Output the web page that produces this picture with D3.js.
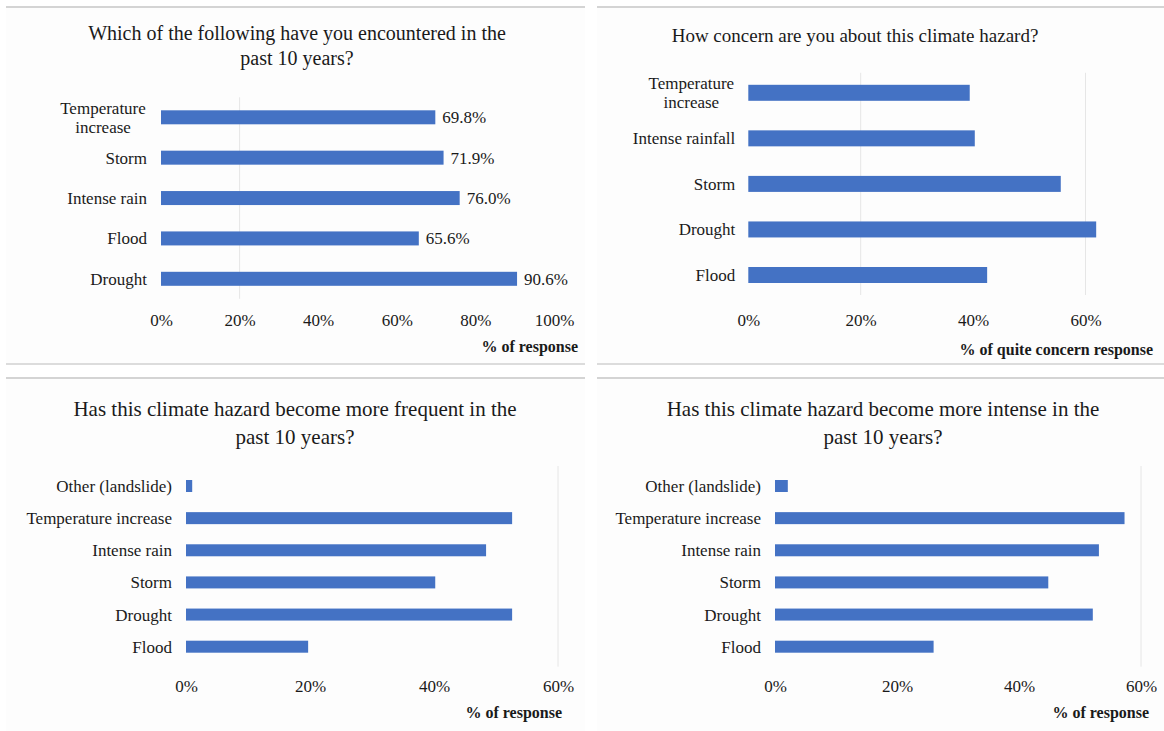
<!DOCTYPE html>
<html>
<head>
<meta charset="utf-8">
<script src="https://cdn.jsdelivr.net/npm/d3@7"></script>
<style>
  body { margin: 0; background: #fff; }
  svg text { font-family: 'Liberation Serif', 'Times New Roman', serif; fill: #1a1a1a; }
</style>
</head>
<body>
<div id="visualization"></div>
<script>
/*************************************/
/* Data                              */
/*************************************/

// Top left: encountered in the past 10 years
const encCategories = ['Temperature increase', 'Storm', 'Intense rain', 'Flood', 'Drought'];
const encValues = [69.8, 71.9, 76.0, 65.6, 90.6];

// Top right: quite concerned
const concernCategories = ['Temperature increase', 'Intense rainfall', 'Storm', 'Drought', 'Flood'];
const concernValues = [39.4, 40.3, 55.6, 61.9, 42.5];

// Bottom left: more frequent
const freqCategories = ['Other (landslide)', 'Temperature increase', 'Intense rain', 'Storm', 'Drought', 'Flood'];
const freqValues = [1.0, 52.6, 48.4, 40.2, 52.6, 19.7];

// Bottom right: more intense
const intenseCategories = ['Other (landslide)', 'Temperature increase', 'Intense rain', 'Storm', 'Drought', 'Flood'];
const intenseValues = [2.1, 57.3, 53.1, 44.8, 52.1, 26.0];

// Tick values
const ticksTo100 = [0, 20, 40, 60, 80, 100];
const ticksTo60 = [0, 20, 40, 60];


/*************************************/
/* Layout                            */
/*************************************/

const width = 1164;
const height = 731;
const barColor = '#4472c4';

const panels = [
  {
    box: [6, 7, 585, 365],
    title: ['Which of the following have you encountered in the', 'past 10 years?'],
    titleX: 297, titleY: [33, 58], titleSize: 20,
    categories: encCategories, values: encValues,
    domain: [0, 100], xRange: [161, 554], yRange: [117.3, 278.8],
    barH: 14, ticks: ticksTo100, tickY: 320,
    wrap: true, labelGap: 14, showValues: true,
    axisTitle: '% of response', axisTitleX: 578, axisTitleY: 346,
    grid: [20]
  },
  {
    box: [597, 7, 1164, 365],
    title: ['How concern are you about this climate hazard?'],
    titleX: 855, titleY: [35], titleSize: 19,
    categories: concernCategories, values: concernValues,
    domain: [0, 60], xRange: [748.3, 1085.5], yRange: [92.8, 275],
    barH: 16, ticks: ticksTo60, tickY: 320,
    wrap: true, labelGap: 13, showValues: false,
    axisTitle: '% of quite concern response', axisTitleX: 1153, axisTitleY: 349,
    grid: [20, 60]
  },
  {
    box: [6, 378, 585, 731],
    title: ['Has this climate hazard become more frequent in the', 'past 10 years?'],
    titleX: 295, titleY: [409, 437], titleSize: 21,
    categories: freqCategories, values: freqValues,
    domain: [0, 60], xRange: [186, 558], yRange: [486, 646.7],
    barH: 12, ticks: ticksTo60, tickY: 686,
    wrap: false, labelGap: 14, showValues: false,
    axisTitle: '% of response', axisTitleX: 562, axisTitleY: 712,
    grid: [60]
  },
  {
    box: [597, 378, 1164, 731],
    title: ['Has this climate hazard become more intense in the', 'past 10 years?'],
    titleX: 883, titleY: [409, 437], titleSize: 21,
    categories: intenseCategories, values: intenseValues,
    domain: [0, 60], xRange: [775, 1141], yRange: [486, 646.7],
    barH: 12, ticks: ticksTo60, tickY: 686,
    wrap: false, labelGap: 14, showValues: false,
    axisTitle: '% of response', axisTitleX: 1149, axisTitleY: 712,
    grid: [60]
  }
];


/*************************************/
/* Draw                              */
/*************************************/

const viz = d3.select('#visualization')
  .append('svg')
  .attr('width', width)
  .attr('height', height);

const drawPanel = p => {
  const g = viz.append('g');
  const [bx0, by0, bx1, by1] = p.box;

  // Panel background and separators
  g.append('rect')
    .attr('x', bx0).attr('y', by0)
    .attr('width', bx1 - bx0).attr('height', by1 - by0)
    .attr('fill', '#fdfdfd');
  g.append('line')
    .attr('x1', bx0).attr('x2', bx1).attr('y1', by0).attr('y2', by0)
    .attr('stroke', '#d4d4d4').attr('stroke-width', 2);
  if (by1 < height) {
    g.append('line')
      .attr('x1', bx0).attr('x2', bx1).attr('y1', by1 - 1).attr('y2', by1 - 1)
      .attr('stroke', '#dcdcdc').attr('stroke-width', 2);
  }

  const x = d3.scaleLinear().domain(p.domain).range(p.xRange);
  const y = d3.scalePoint().domain(p.categories).range(p.yRange);
  const data = p.categories.map((c, i) => ({ cat: c, val: p.values[i] }));

  // Title
  g.append('text')
    .attr('text-anchor', 'middle')
    .attr('font-size', p.titleSize)
    .selectAll('tspan')
    .data(p.title)
    .join('tspan')
      .attr('x', p.titleX)
      .attr('y', (d, i) => p.titleY[i])
      .attr('dy', '0.35em')
      .text(d => d);

  // Gridlines
  g.append('g')
    .selectAll('line')
    .data(p.grid)
    .join('line')
      .attr('x1', d => x(d)).attr('x2', d => x(d))
      .attr('y1', p.yRange[0] - 20).attr('y2', p.yRange[1] + 20)
      .attr('stroke', '#e6e6e6');

  // Bars
  g.append('g')
    .selectAll('rect')
    .data(data)
    .join('rect')
      .attr('x', x(0))
      .attr('y', d => y(d.cat) - p.barH / 2)
      .attr('width', d => x(d.val) - x(0))
      .attr('height', p.barH)
      .attr('fill', barColor);

  // Value labels
  if (p.showValues) {
    g.append('g')
      .selectAll('text')
      .data(data)
      .join('text')
        .attr('x', d => x(d.val) + 7)
        .attr('y', d => y(d.cat))
        .attr('dy', '0.35em')
        .attr('font-size', 17)
        .text(d => d3.format('.1f')(d.val) + '%');
  }

  // Category labels
  const labels = g.append('g')
    .selectAll('text')
    .data(data)
    .join('text')
      .attr('text-anchor', 'end')
      .attr('font-size', 17);
  labels.each(function(d) {
    const t = d3.select(this);
    const lines = (p.wrap && d.cat === 'Temperature increase') ? ['Temperature', 'increase'] : [d.cat];
    t.selectAll('tspan')
      .data(lines)
      .join('tspan')
        .attr('x', x(0) - p.labelGap)
        .attr('y', (l, i) => y(d.cat) + (i - (lines.length - 1) / 2) * 19)
        .attr('dy', '0.35em')
        .attr('text-anchor', lines.length > 1 ? 'middle' : 'end')
        .attr('dx', lines.length > 1 ? -44 : 0)
        .text(l => l);
  });

  // X axis
  const axis = g.append('g')
    .attr('transform', `translate(0,${p.tickY - 9})`)
    .call(d3.axisBottom(x).tickValues(p.ticks).tickSize(0).tickFormat(d => d + '%'));
  axis.select('.domain').remove();
  axis.selectAll('text')
    .attr('font-size', 17)
    .attr('font-family', "'Liberation Serif', 'Times New Roman', serif")
    .attr('fill', '#222');

  // Axis title
  g.append('text')
    .attr('x', p.axisTitleX)
    .attr('y', p.axisTitleY)
    .attr('dy', '0.35em')
    .attr('text-anchor', 'end')
    .attr('font-weight', 'bold')
    .attr('font-size', 16)
    .text(p.axisTitle);
};

panels.forEach(drawPanel);
</script>
</body>
</html>
